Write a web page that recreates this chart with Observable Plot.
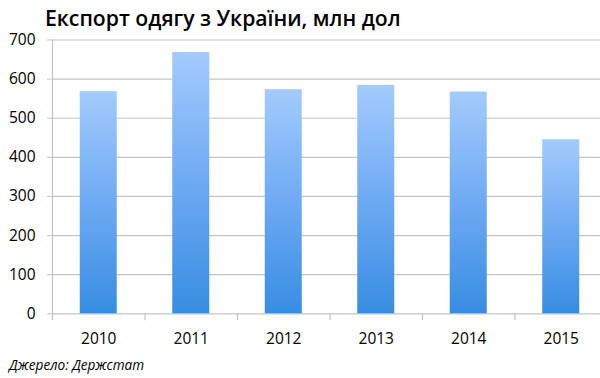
<!DOCTYPE html>
<html><head><meta charset="utf-8">
<script src="https://cdn.jsdelivr.net/npm/d3@7"></script>
<script src="https://cdn.jsdelivr.net/npm/@observablehq/plot@0.6"></script>
<style>
html,body{margin:0;padding:0;overflow:hidden;background:#fff;width:600px;height:378px}
#wrap{position:relative;width:600px;height:378px;overflow:hidden}
#chart{position:absolute;left:0;top:0}
#title{position:absolute;left:45px;top:7px;font-family:"Open Sans";font-weight:600;font-size:21.2px;line-height:1;color:#000;white-space:nowrap}
#caption{position:absolute;left:9px;top:358px;font-family:"Open Sans";font-style:italic;font-size:13.6px;line-height:1;color:#000;white-space:nowrap}
</style></head><body>
<div id="wrap"><div id="chart"></div>
<div id="title">Експорт одягу з України, млн дол</div>
<div id="caption">Джерело: Держстат</div></div>
<script>
const years = [2010, 2011, 2012, 2013, 2014, 2015];
const values = [568, 668, 573, 584, 567, 445];
const yTicks = [0, 100, 200, 300, 400, 500, 600, 700];

const data = years.map((year, i) => ({year, value: values[i]}));
const boundaries = [...years.map(y => y - 0.5), years[years.length - 1] + 0.5];

const gradientDefs = () => {
  const ns = "http://www.w3.org/2000/svg";
  const defs = document.createElementNS(ns, "defs");
  const g = document.createElementNS(ns, "linearGradient");
  g.setAttribute("id", "barGrad");
  g.setAttribute("x1", "0"); g.setAttribute("y1", "0");
  g.setAttribute("x2", "0"); g.setAttribute("y2", "1");
  [["0%", "#a3cbfd"], ["50%", "#6eaaf3"], ["100%", "#378de2"]].forEach(([o, c]) => {
    const s = document.createElementNS(ns, "stop");
    s.setAttribute("offset", o); s.setAttribute("stop-color", c);
    g.appendChild(s);
  });
  defs.appendChild(g);
  return defs;
};

const chart = Plot.plot({
  width: 607,
  height: 378,
  marginLeft: 52,
  marginRight: 0,
  marginTop: 39.5,
  marginBottom: 64.7,
  style: {maxWidth: "none", fontFamily: "Open Sans", fontSize: "15.5px", color: "#000", background: "transparent"},
  x: {domain: [years[0] - 0.5, years[years.length - 1] + 0.5], axis: null},
  y: {domain: [0, 700], axis: null},
  marks: [
    gradientDefs,
    Plot.ruleY(yTicks, {y: d => d, stroke: "#c4c4c4", strokeWidth: 1.2}),
    Plot.ruleX([boundaries[0]], {x: d => d, y1: () => 700, y2: () => 0, insetBottom: -7, stroke: "#c4c4c4", strokeWidth: 1.2}),
    Plot.ruleX(boundaries.slice(1), {x: d => d, y1: () => 0, y2: () => 0, insetBottom: -7, stroke: "#c4c4c4", strokeWidth: 1.2}),
    Plot.axisY({ticks: yTicks, label: null, tickSize: 5, tickPadding: 12, stroke: "#c4c4c4", fill: "#000", fontSize: 15.5, tickFormat: d => String(d)}),
    Plot.axisX({ticks: years, label: null, tickSize: 0, tickPadding: 19, fill: "#000", fontSize: 15.5, tickFormat: d => String(d)}),
    Plot.rectY(data, {x1: d => d.year - 0.2, x2: d => d.year + 0.2, y: "value", fill: "url(#barGrad)"})
  ]
});
document.getElementById("chart").appendChild(chart);
</script>
</body></html>
